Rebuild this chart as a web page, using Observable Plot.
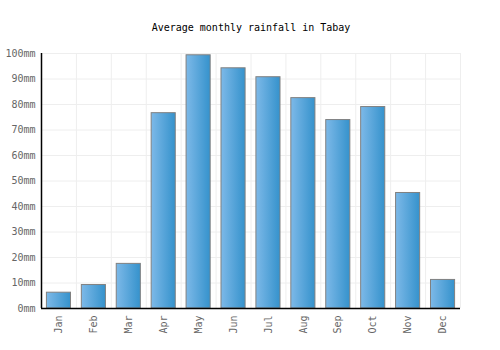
<!DOCTYPE html>
<html>
<head>
<meta charset="utf-8">
<script src="https://cdn.jsdelivr.net/npm/d3@7"></script>
<script src="https://cdn.jsdelivr.net/npm/@observablehq/plot@0.6"></script>
<style>
  html, body { margin: 0; padding: 0; background: #fff; }
  #chart svg { display: block; }
</style>
</head>
<body>
<div id="chart"></div>
<script>
const months = ["Jan","Feb","Mar","Apr","May","Jun","Jul","Aug","Sep","Oct","Nov","Dec"];
const rainfall = [6.2, 9.2, 17.5, 76.6, 99.3, 94.2, 90.7, 82.5, 73.9, 79.0, 45.3, 11.2];
const yTicks = [0,10,20,30,40,50,60,70,80,90,100];
const title = "Average monthly rainfall in Tabay";

const data = months.map((m, i) => ({month: m, value: rainfall[i]}));

const W = 500, H = 350;
const mL = 41, mR = 40, mT = 53, mB = 42;
const step = (W - mL - mR) / months.length;
const font = "'DejaVu Sans Mono', monospace";

const chart = Plot.plot({
  width: W,
  height: H,
  marginLeft: mL,
  marginRight: mR,
  marginTop: mT,
  marginBottom: mB,
  style: {fontFamily: font, fontSize: "10px", background: "#fff", overflow: "visible"},
  x: {domain: months, paddingInner: 0.31, paddingOuter: 0.155, round: false, label: null},
  y: {domain: [0, 100], label: null},
  marks: [
    Plot.gridY(yTicks, {stroke: "#eeeeee", strokeOpacity: 1, strokeWidth: 1}),
    Plot.ruleX(months, {x: d => d, dx: -step / 2, stroke: "#eeeeee", strokeWidth: 1}),
    Plot.ruleX(months.slice(-1), {x: d => d, dx: step / 2, stroke: "#eeeeee", strokeWidth: 1}),
    Plot.barY(data, {x: "month", y: "value", fill: "url(#barGrad)", stroke: "#808080", strokeWidth: 1}),
    Plot.axisY(yTicks, {tickFormat: d => d + "mm", tickSize: 0, tickPadding: 6, fill: "#666", fontSize: 10, fontFamily: font}),
    Plot.axisX({tickRotate: -90, tickSize: 0, tickPadding: 7, fill: "#666", fontSize: 10, fontFamily: font}),
    Plot.ruleY([0], {stroke: "#000", strokeWidth: 1.5}),
    Plot.ruleX([0], {x: () => months[0], dx: -step / 2, y1: 0, y2: 100, stroke: "#000", strokeWidth: 1.5}),
    Plot.text([title], {frameAnchor: "top", dy: -30, text: d => d, fill: "#000", fontSize: 10, fontFamily: font})
  ]
});

const svg = d3.select(chart);
const defs = svg.insert("defs", ":first-child");
const grad = defs.append("linearGradient").attr("id", "barGrad")
  .attr("x1", "0%").attr("x2", "100%").attr("y1", "0%").attr("y2", "0%");
grad.append("stop").attr("offset", "0%").attr("stop-color", "#7db9e8");
grad.append("stop").attr("offset", "100%").attr("stop-color", "#3592cc");

document.getElementById("chart").appendChild(chart);
</script>
</body>
</html>
